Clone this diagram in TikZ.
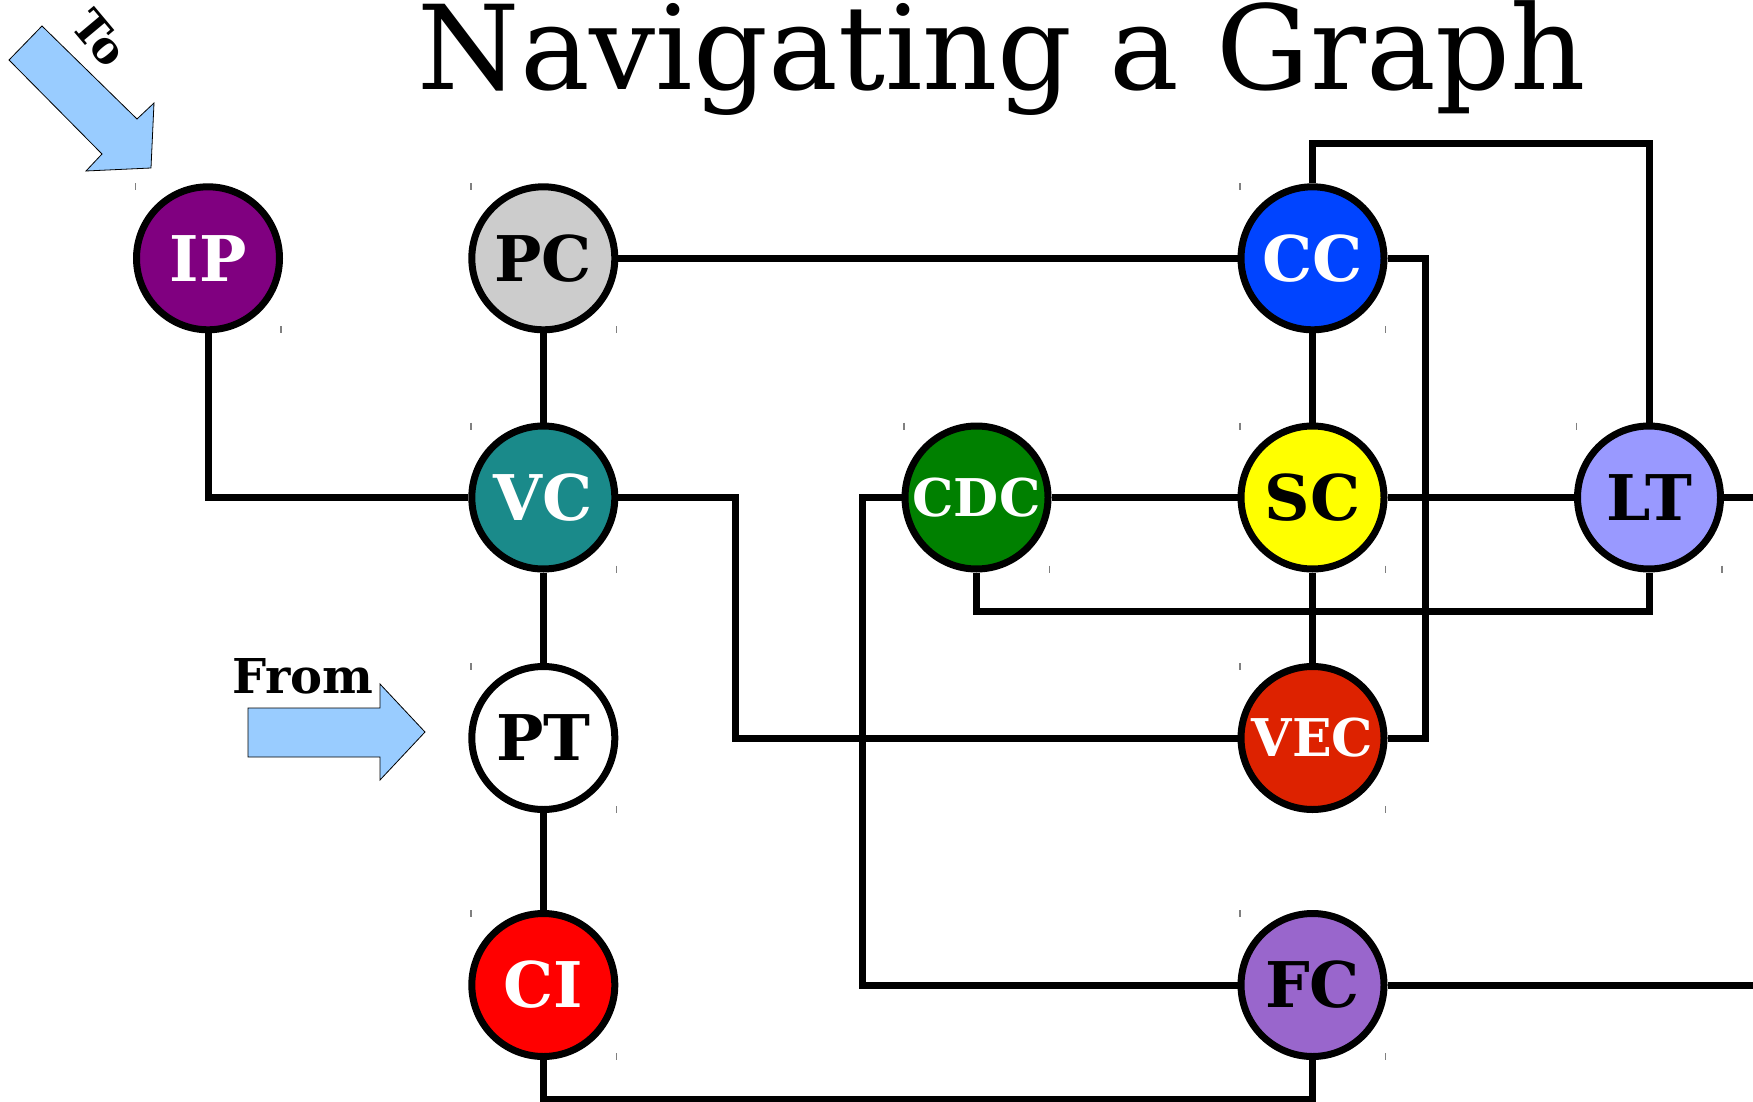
\documentclass[tikz,border=0pt]{standalone}
\usepackage{fontspec}
\setmainfont{DejaVu Serif}
\usetikzlibrary{calc}
\definecolor{cIP}{HTML}{800080}
\definecolor{cPC}{HTML}{CCCCCC}
\definecolor{cCC}{HTML}{0044FF}
\definecolor{cVC}{HTML}{1A8A8A}
\definecolor{cCDC}{HTML}{008000}
\definecolor{cSC}{HTML}{FFFF00}
\definecolor{cLT}{HTML}{9999FF}
\definecolor{cPT}{HTML}{FFFFFF}
\definecolor{cVEC}{HTML}{DD2200}
\definecolor{cCI}{HTML}{FF0000}
\definecolor{cFC}{HTML}{9966CC}
\definecolor{arrowblue}{HTML}{99CCFF}
\tikzset{
  station/.style={circle, draw=black, line width=7pt, minimum size=143pt, inner sep=0pt,
    font=\fontsize{63}{63}\selectfont\bfseries},
  smallstation/.style={station, font=\fontsize{52}{52}\selectfont\bfseries},
  link/.style={line width=7pt, draw=black},
  bigarrow/.style={fill=arrowblue, draw=black, line width=0.8pt, line join=miter},
  tick/.style={draw=black!50, line width=1.5pt},
  label/.style={font=\fontsize{48}{48}\selectfont\bfseries, inner sep=0pt}
}
\begin{document}
\begin{tikzpicture}[x=1pt,y=-1pt]
\useasboundingbox (0,0) rectangle (1753,1102);
% title
\node[font=\fontsize{117}{117}\selectfont, anchor=base, inner sep=0pt] (title) at (1002,89.5) {Navigating a Graph};
% helper coordinates
\coordinate (ytop) at (0,144);
\coordinate (ymid) at (0,611.5);
\coordinate (ybot) at (0,1099);
\coordinate (xr) at (1425.5,0);
\coordinate (xv) at (735.6,0);
\coordinate (xc) at (862,0);
\coordinate (redge) at (1765,0);
% stations
\node[station, fill=cIP, text=white] (IP) at (208,258.3) {IP};
\node[station, fill=cPC, text=black] (PC) at (543.3,258.3) {PC};
\node[station, fill=cCC, text=white] (CC) at (1312.5,258.3) {CC};
\node[station, fill=cVC, text=white] (VC) at (543.3,497.5) {VC};
\node[smallstation, fill=cCDC, text=white] (CDC) at (976.5,497.5) {CDC};
\node[station, fill=cSC, text=black] (SC) at (1312.5,497.5) {SC};
\node[station, fill=cLT, text=black] (LT) at (1649,497.5) {LT};
\node[station, fill=cPT, text=black] (PT) at (543.3,738) {PT};
\node[smallstation, fill=cVEC, text=white] (VEC) at (1312.5,738) {VEC};
\node[station, fill=cCI, text=white] (CI) at (543.3,985) {CI};
\node[station, fill=cFC, text=black] (FC) at (1312.5,985) {FC};
% connectors
\draw[link] (IP.south) |- (VC.west);
\draw[link] (PC) -- (VC);
\draw[link] (PC) -- (CC);
\draw[link] (CC.north) -- (CC |- ytop) -- (LT |- ytop) -- (LT.north);
\draw[link] (CC.east) -- (xr |- CC) -- (xr |- VEC) -- (VEC.east);
\draw[link] (CC) -- (SC);
\draw[link] (SC) -- (VEC);
\draw[link] (CDC) -- (SC);
\draw[link] (SC) -- (LT);
\draw[link] (LT.east) -- (redge |- LT);
\draw[link] (VC.east) -- (xv |- VC) -- (xv |- VEC) -- (VEC.west);
\draw[link] (VC) -- (PT);
\draw[link] (PT) -- (CI);
\draw[link] (CDC.west) -- (xc |- CDC) -- (xc |- FC) -- (FC.west);
\draw[link] (CDC.south) -- (CDC |- ymid) -- (LT |- ymid) -- (LT.south);
\draw[link] (CI.south) -- (CI |- ybot) -- (FC |- ybot) -- (FC.south);
\draw[link] (FC.east) -- (redge |- FC);
% corner ticks
\foreach \n in {IP,PC,CC,VC,CDC,SC,LT,PT,VEC,CI,FC}{
  \draw[tick] ($(\n)+(-72.5,-75)$) -- ++(0,7);
  \draw[tick] ($(\n)+(73,68)$) -- ++(0,7);
}
% To arrow
\draw[bigarrow] (9,60) -- (42,26) -- (137,119) -- (154,103) -- (151,168) -- (86,171) -- (102,154) -- cycle;
\node[label, rotate=-50, font=\fontsize{44}{44}\selectfont\bfseries] (to) at (100,38) {To};
% From arrow
\draw[bigarrow] (248,708) -- (380,708) -- (380,684) -- (425,732) -- (380,780) -- (380,757) -- (248,757) -- cycle;
\node[label, anchor=base west] (from) at (232,693) {From};
\end{tikzpicture}
\end{document}
